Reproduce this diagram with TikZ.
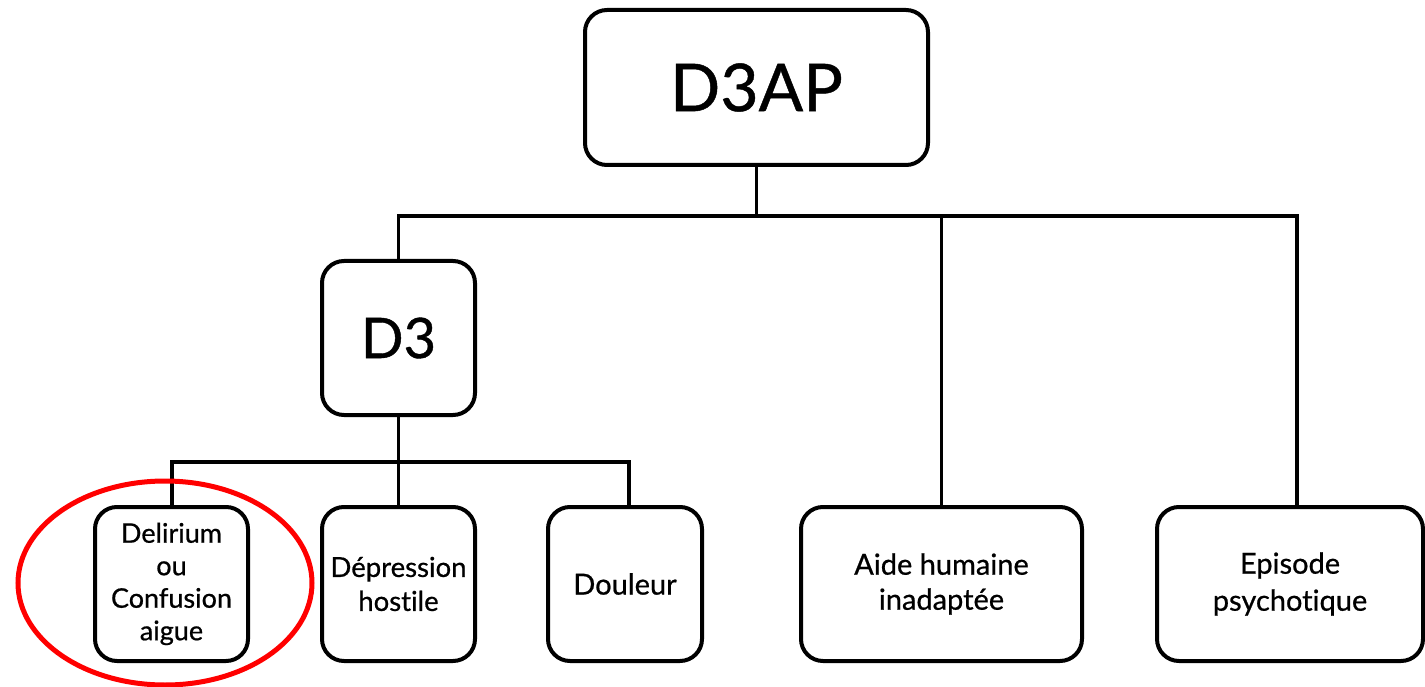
\documentclass[tikz,border=0pt]{standalone}
\usepackage{fontspec}
\setmainfont{Lato}[Ligatures=NoCommon, FakeBold=0.7]
\begin{document}
\begin{tikzpicture}[x=1pt,y=-1pt,
  box/.style={draw, line width=4pt, rounded corners=22pt, inner sep=0pt, align=center, fill=white},
  leaf/.style={box, minimum height=154pt, font=\fontsize{29}{35}\selectfont},
  link/.style={line width=3.5pt}]
\useasboundingbox[fill=white] (0,0) rectangle (1425,687);
% nodes
\node[box, minimum width=343pt, minimum height=155pt, font=\fontsize{66}{70}\selectfont] (root) at (756.5,87.5) {D3AP};
\node[box, minimum width=153pt, minimum height=154pt, font=\fontsize{56}{60}\selectfont] (d3) at (398.5,338) {D3};
\node[leaf, minimum width=153pt, font=\fontsize{27}{32.5}\selectfont] (del) at (171.5,584) {Delirium\\ou\\Confusion\\aigue};
\node[leaf, minimum width=153pt, font=\fontsize{27.5}{34}\selectfont] (dep) at (398.5,584) {Dépression\\hostile};
\node[leaf, minimum width=154pt] (dou) at (625,584) {Douleur};
\node[leaf, minimum width=281pt] (aide) at (941.5,584) {Aide humaine\\inadaptée};
\node[leaf, minimum width=266pt, font=\fontsize{29}{37}\selectfont] (epi) at (1290,584) {Episode\\psychotique};
% bars
\coordinate (b1) at (756.5,216);
\coordinate (b2) at (398.5,462);
% connectors
\draw[link] (root.south) -- (b1);
\draw[link] (d3.north) -- (d3.north |- b1) -- (1297,216 |- b1) -- (1297,0 |- aide.north);
\draw[link] (aide.north) -- (aide.north |- b1);
\draw[link] (d3.south) -- (dep.north);
\draw[link] (172,0 |- del.north) -- (172,0 |- b2) -- (629,0 |- b2) -- (629,0 |- dou.north);
% highlight
\draw[red, line width=5pt] (165,583) ellipse [x radius=147, y radius=102];
\end{tikzpicture}
\end{document}
